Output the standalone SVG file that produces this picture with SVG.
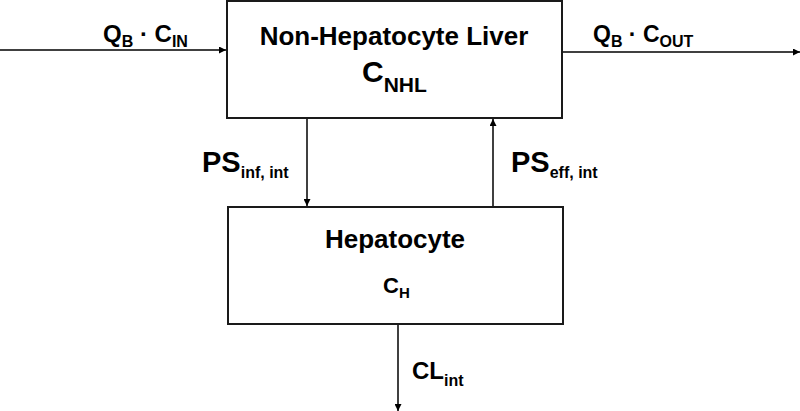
<svg xmlns="http://www.w3.org/2000/svg" width="800" height="411" viewBox="0 0 800 411">
<defs>
<style>
.box{fill:#fff;stroke:#1a1a1a;stroke-width:2}
.ln{stroke:#000;stroke-width:1.5;fill:none}
text{font-family:"Liberation Sans",Arial,sans-serif;font-weight:bold;fill:#000}
.t{font-size:26px}
</style>
<marker id="ah" viewBox="0 0 10 10" refX="10" refY="5" markerWidth="7" markerHeight="7" markerUnits="userSpaceOnUse" orient="auto">
<path d="M0,0 L10,5 L0,10 z" fill="#000"/>
</marker>
</defs>
<g id="connectors">
<line class="ln" x1="0" y1="50" x2="226" y2="50" marker-end="url(#ah)"/>
<line class="ln" x1="563" y1="52" x2="800" y2="52" marker-end="url(#ah)"/>
<line class="ln" x1="307" y1="119" x2="307" y2="206" marker-end="url(#ah)"/>
<line class="ln" x1="493" y1="206" x2="493" y2="119" marker-end="url(#ah)"/>
<line class="ln" x1="398" y1="325" x2="398" y2="411" marker-end="url(#ah)"/>
</g>
<g id="nhl">
<rect class="box" x="227" y="1" width="335" height="117"/>
<text class="t" x="394" y="45" text-anchor="middle">Non-Hepatocyte Liver</text>
<text x="362" y="82" font-size="30">C<tspan font-size="21" dy="10">NHL</tspan></text>
</g>
<g id="hep">
<rect class="box" x="228" y="207" width="335" height="117"/>
<text class="t" x="395" y="248" text-anchor="middle">Hepatocyte</text>
<text x="383" y="293" font-size="22">C<tspan font-size="15" dy="5">H</tspan></text>
</g>
<g id="labels">
<text x="103" y="42" font-size="24">Q<tspan font-size="16" dy="5">B</tspan><tspan dy="-5"> · C</tspan><tspan font-size="16" dy="5">IN</tspan></text>
<text x="593" y="42" font-size="23">Q<tspan font-size="16" dy="5">B</tspan><tspan dy="-5"> · C</tspan><tspan font-size="16" dy="5">OUT</tspan></text>
<text x="202" y="172" font-size="29">PS<tspan font-size="16" dy="6">inf, int</tspan></text>
<text x="511" y="172" font-size="29">PS<tspan font-size="16" dy="6">eff, int</tspan></text>
<text x="412" y="379" font-size="24">CL<tspan font-size="16" dy="7">int</tspan></text>
</g>
</svg>
